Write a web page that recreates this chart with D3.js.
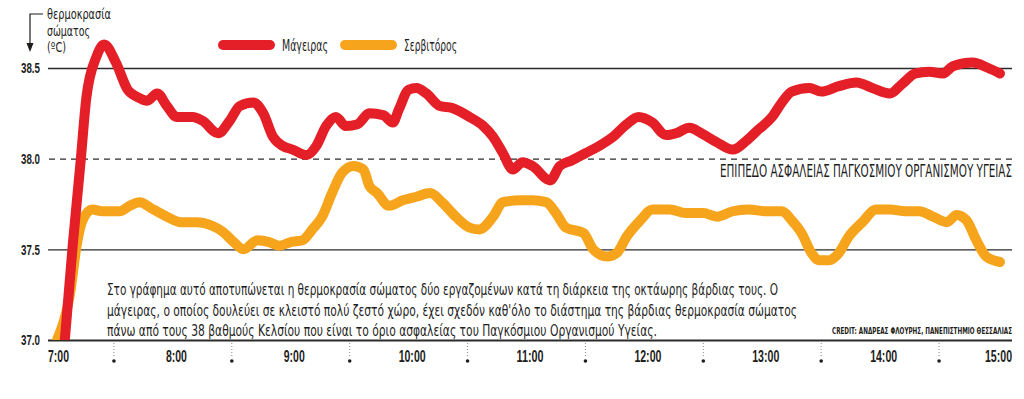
<!DOCTYPE html>
<html>
    <head>
        <meta charset="utf-8">
        <script src="https://d3js.org/d3.v7.min.js"></script>
        <title>Θερμοκρασία σώματος</title>
    </head>
    <body>
        <div id="my_dataviz"></div>
    </body>
    <style>
        body {
            margin: 0;
            background: #fff;
            font-family: "Liberation Sans Narrow", "DejaVu Sans Condensed", "Roboto Condensed", sans-serif;
        }
        svg text { fill: #1d1d1b; }
    </style>
    <script>
        // minutes after 7:00 and body temperature (ºC)
        var cookMinutes = [5, 9, 13, 16, 21, 25, 31, 37, 42, 47, 52, 57, 62, 70, 75, 83, 89, 94, 101, 106,
            111, 116, 121, 128, 133, 138, 143, 148, 154, 160, 167, 172, 175, 180, 184, 189, 196, 202, 211, 218,
            223, 228, 233, 238, 243, 252, 257, 263, 270, 277, 284, 291, 297, 304, 311, 316, 323, 329, 337, 345,
            352, 358, 365, 370, 375, 384, 390, 399, 408, 416, 425, 431, 438, 445, 452, 457, 467, 475, 481];
        var cookTemp = [37.00, 37.52, 37.98, 38.34, 38.56, 38.63, 38.53, 38.38, 38.34, 38.32, 38.36, 38.29, 38.23, 38.23, 38.21, 38.14, 38.21, 38.29, 38.31, 38.25,
            38.12, 38.07, 38.05, 38.02, 38.07, 38.18, 38.23, 38.18, 38.19, 38.25, 38.24, 38.20, 38.27, 38.38, 38.39, 38.36, 38.29, 38.28, 38.23, 38.18,
            38.12, 38.03, 37.94, 37.98, 37.96, 37.88, 37.96, 37.99, 38.03, 38.07, 38.12, 38.19, 38.23, 38.20, 38.13, 38.14, 38.17, 38.14, 38.09, 38.05,
            38.10, 38.16, 38.23, 38.31, 38.37, 38.39, 38.37, 38.40, 38.42, 38.39, 38.36, 38.41, 38.47, 38.48, 38.47, 38.51, 38.53, 38.50, 38.47];

        var waiterMinutes = [1, 8, 11, 14, 19, 24, 33, 38, 43, 50, 57, 64, 72, 80, 85, 91, 96, 103, 109, 114,
            120, 126, 131, 136, 141, 146, 152, 157, 160, 164, 170, 177, 184, 191, 197, 204, 211, 216, 223, 228,
            237, 243, 250, 255, 260, 269, 274, 281, 286, 291, 298, 304, 313, 321, 330, 337, 345, 353, 362, 370,
            375, 380, 385, 389, 394, 399, 404, 411, 418, 425, 433, 440, 447, 454, 459, 464, 469, 474, 481];
        var waiterTemp = [37.00, 37.28, 37.52, 37.66, 37.72, 37.71, 37.71, 37.74, 37.76, 37.72, 37.68, 37.65, 37.65, 37.63, 37.60, 37.54, 37.50, 37.55, 37.54, 37.52,
            37.54, 37.55, 37.61, 37.68, 37.81, 37.92, 37.96, 37.94, 37.85, 37.81, 37.74, 37.77, 37.79, 37.81, 37.76, 37.68, 37.62, 37.61, 37.68, 37.76,
            37.77, 37.77, 37.76, 37.70, 37.62, 37.59, 37.50, 37.46, 37.48, 37.57, 37.66, 37.72, 37.72, 37.70, 37.70, 37.68, 37.71, 37.72, 37.71, 37.71,
            37.66, 37.59, 37.48, 37.44, 37.44, 37.48, 37.57, 37.65, 37.72, 37.72, 37.71, 37.71, 37.68, 37.65, 37.69, 37.66, 37.55, 37.46, 37.43];

        var seriesNames = ["Μάγειρας", "Σερβιτόρος"];
        var seriesColors = ["#e41f27", "#f6a41c"];
        var yTicks = [37.0, 37.5, 38.0, 38.5];
        var hourTicks = [0, 60, 120, 180, 240, 300, 360, 420, 480];
        var halfHourTicks = [30, 90, 150, 210, 270, 330, 390, 450];

        var bodyLines = [
            "Στο γράφημα αυτό αποτυπώνεται η θερμοκρασία σώματος δύο εργαζομένων κατά τη διάρκεια της οκτάωρης βάρδιας τους. Ο",
            "μάγειρας, ο οποίος δουλεύει σε κλειστό πολύ ζεστό χώρο, έχει σχεδόν καθ'όλο το διάστημα της βάρδιας θερμοκρασία σώματος",
            "πάνω από τους 38 βαθμούς Κελσίου που είναι το όριο ασφαλείας του Παγκόσμιου Οργανισμού Υγείας."
        ];
        var bodyWidths = [671, 690, 550];
        var titleLines = ["θερμοκρασία", "σώματος", "(ºC)"];
        var titleWidths = [64, 43, 19];
        var legendWidths = [46, 53];

        var width = 1024, height = 399;
        var left = 48, right = 1012, bottom = 340;

        var svg = d3.select("#my_dataviz")
            .append("svg")
            .attr("width", width)
            .attr("height", height);

        var x = d3.scaleLinear().domain([0, 480]).range([55, 998]);
        var y = d3.scaleLinear().domain([37, 38.5]).range([bottom, 68]);

        // horizontal grid + y labels
        var yAxis = svg.append("g")
            .attr("transform", "translate(" + right + ",0)")
            .call(d3.axisLeft(y).tickValues(yTicks).tickSize(right - left).tickPadding(8)
                .tickFormat(d3.format(".1f")));
        yAxis.select(".domain").remove();
        yAxis.selectAll("line")
            .attr("stroke", "#2b2b2b")
            .attr("stroke-width", function (d) { return d === 37 ? 2 : 1.3; })
            .attr("stroke-dasharray", function (d) { return d === 38 ? "6,5" : null; });
        yAxis.selectAll("text")
            .attr("textLength", 19)
            .attr("lengthAdjust", "spacingAndGlyphs")
            .style("font-family", "inherit")
            .style("font-size", "15px")
            .style("font-weight", "bold")
            .attr("fill", "#1d1d1b");

        // safety label
        svg.append("text")
            .attr("x", right)
            .attr("y", 177)
            .attr("text-anchor", "end")
            .attr("textLength", 292)
            .attr("lengthAdjust", "spacingAndGlyphs")
            .style("font-size", "17px")
            .text("ΕΠΙΠΕΔΟ ΑΣΦΑΛΕΙΑΣ ΠΑΓΚΟΣΜΙΟΥ ΟΡΓΑΝΙΣΜΟΥ ΥΓΕΙΑΣ");

        // x axis
        var xAxis = svg.append("g")
            .attr("transform", "translate(0," + bottom + ")")
            .call(d3.axisBottom(x).tickValues(hourTicks).tickSize(0).tickPadding(11)
                .tickFormat(function (d) { return (7 + d / 60) + ":00"; }));
        xAxis.select(".domain").remove();
        xAxis.selectAll("text")
            .attr("x", function (d) { return d === 480 ? 0 : 3; })
            .attr("textLength", function (d) { return d >= 180 ? 27 : 21; })
            .attr("lengthAdjust", "spacingAndGlyphs")
            .style("font-family", "inherit")
            .style("font-size", "16px")
            .style("font-weight", "bold")
            .attr("fill", "#1d1d1b");

        var half = svg.append("g").selectAll("g")
            .data(halfHourTicks)
            .enter().append("g")
            .attr("transform", function (d) { return "translate(" + x(d) + ",0)"; });
        half.append("line")
            .attr("y1", bottom + 3).attr("y2", bottom + 16)
            .attr("stroke", "#888").attr("stroke-width", 1)
            .attr("stroke-dasharray", "1,2");
        half.append("circle")
            .attr("cy", bottom + 21).attr("r", 1.8)
            .attr("fill", "#1d1d1b");

        // body text
        svg.append("g").selectAll("text")
            .data(bodyLines)
            .enter().append("text")
            .attr("x", 107)
            .attr("y", function (d, i) { return 295 + i * 20.5; })
            .attr("textLength", function (d, i) { return bodyWidths[i]; })
            .attr("lengthAdjust", "spacingAndGlyphs")
            .style("font-size", "16.5px")
            .text(function (d) { return d; });

        svg.append("text")
            .attr("x", right)
            .attr("y", 334)
            .attr("text-anchor", "end")
            .attr("textLength", 180)
            .attr("lengthAdjust", "spacingAndGlyphs")
            .style("font-size", "8.5px")
            .style("font-weight", "bold")
            .text("CREDIT: ΑΝΔΡΕΑΣ ΦΛΟΥΡΗΣ, ΠΑΝΕΠΙΣΤΗΜΙΟ ΘΕΣΣΑΛΙΑΣ");

        // lines
        svg.append("clipPath").attr("id", "plotclip")
            .append("rect").attr("x", 0).attr("y", 0).attr("width", width).attr("height", bottom);

        var line = d3.line()
            .x(function (d) { return x(d[0]); })
            .y(function (d) { return y(d[1]); })
            .curve(d3.curveMonotoneX);

        var series = [
            d3.zip(waiterMinutes, waiterTemp),
            d3.zip(cookMinutes, cookTemp)
        ];
        var seriesIdx = [1, 0];

        svg.append("g").attr("clip-path", "url(#plotclip)")
            .selectAll("path")
            .data(series)
            .enter().append("path")
            .attr("d", line)
            .attr("fill", "none")
            .attr("stroke", function (d, i) { return seriesColors[seriesIdx[i]]; })
            .attr("stroke-width", 10)
            .attr("stroke-linejoin", "round")
            .attr("stroke-linecap", "round");

        // legend
        var legendX = [223, 345];
        var legend = svg.append("g").selectAll("g")
            .data(seriesNames)
            .enter().append("g")
            .attr("transform", function (d, i) { return "translate(" + legendX[i] + ",45)"; });
        legend.append("line")
            .attr("x1", 0).attr("x2", 47)
            .attr("stroke", function (d, i) { return seriesColors[i]; })
            .attr("stroke-width", 10)
            .attr("stroke-linecap", "round");
        legend.append("text")
            .attr("x", 59).attr("y", 6)
            .attr("textLength", function (d, i) { return legendWidths[i]; })
            .attr("lengthAdjust", "spacingAndGlyphs")
            .style("font-size", "16px")
            .text(function (d) { return d; });

        // y axis title with arrow
        svg.append("path")
            .attr("d", "M43,14H30V44")
            .attr("fill", "none")
            .attr("stroke", "#1d1d1b")
            .attr("stroke-width", 1.2);
        svg.append("path")
            .attr("d", "M26.5,43L30,52L33.5,43Z")
            .attr("fill", "#1d1d1b");
        svg.append("g").selectAll("text")
            .data(titleLines)
            .enter().append("text")
            .attr("x", 47)
            .attr("y", function (d, i) { return 19 + i * 16.5; })
            .attr("textLength", function (d, i) { return titleWidths[i]; })
            .attr("lengthAdjust", "spacingAndGlyphs")
            .style("font-size", "14.5px")
            .text(function (d) { return d; });
    </script>
</html>
